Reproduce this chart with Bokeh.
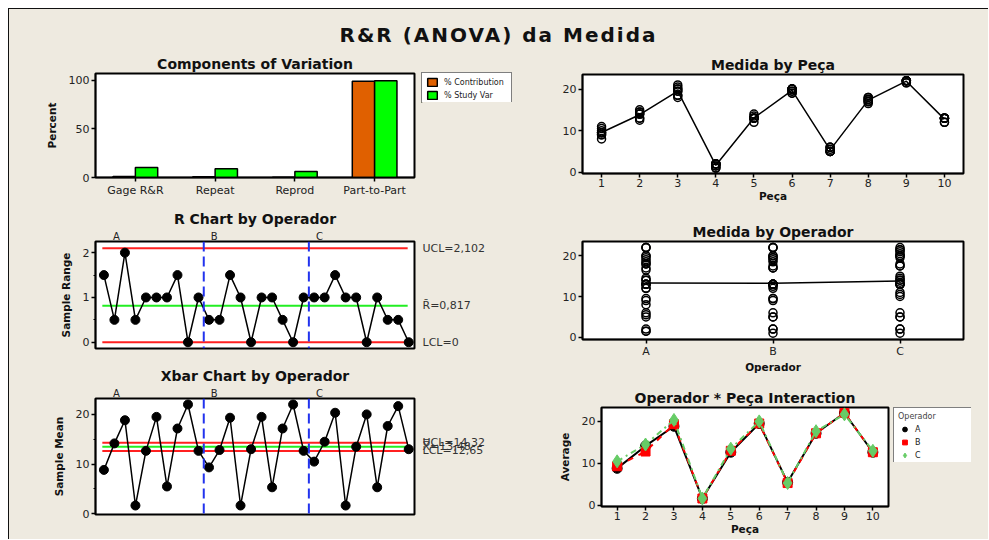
import numpy as np
from bokeh.plotting import figure
from bokeh.layouts import column, row
from bokeh.models import (ColumnDataSource, Legend, LegendItem, Span, Div, LinearAxis,
                          FactorRange, Range1d, FixedTicker)
from bokeh.transform import dodge
from bokeh.embed import file_html
from bokeh.resources import INLINE

# ---------------- data ----------------
components = ["Gage R&R", "Repeat", "Reprod", "Part-to-Part"]
pct_contribution = [1.06, 0.79, 0.38, 98.94]
pct_study_var = [10.3, 8.9, 6.2, 99.47]

operators = ["A", "B", "C"]
parts = [1, 2, 3, 4, 5, 6, 7, 8, 9, 10]

medida_A = [[8.0, 9.0, 9.5], [14.0, 14.0, 14.5], [18.0, 18.5, 20.0], [1.5, 1.5, 2.0],
            [12.0, 13.0, 13.0], [19.0, 19.5, 20.0], [5.0, 5.5, 6.0], [16.5, 17.0, 18.0],
            [22.0, 22.0, 22.0], [12.0, 13.0, 13.0]]
medida_B = [[9.0, 9.5, 9.5], [12.5, 13.0, 13.0], [18.5, 19.5, 20.0], [1.0, 2.0, 2.0],
            [13.0, 13.0, 13.0], [19.0, 19.5, 20.0], [5.0, 5.0, 6.0], [17.0, 17.0, 17.5],
            [22.0, 22.0, 22.0], [12.0, 13.0, 13.0]]
medida_C = [[10.0, 10.5, 11.0], [14.0, 14.5, 15.0], [19.5, 20.5, 21.0], [1.0, 2.0, 2.0],
            [13.0, 13.5, 14.0], [20.0, 20.0, 20.0], [5.0, 5.0, 6.0], [17.5, 17.5, 18.0],
            [21.5, 21.5, 22.0], [13.0, 13.0, 13.0]]

r_limits = [2.102, 0.817, 0]
r_labels = ["UCL=2,102", "R\u0304=0,817", "LCL=0"]
x_limits = [14.32, 13.48, 12.65]
x_labels = ["UCL=14,32", "X\u033f=13,48", "LCL=12,65"]

# ---------------- styling ----------------
BG = "#EEEAE0"
FONT = "DejaVu Sans"
ORANGE = "#E06000"
GREEN = "#00FF00"
LGREEN = "#66CC66"

data = {"A": np.array(medida_A), "B": np.array(medida_B), "C": np.array(medida_C)}


def no_align(p):
    try:
        p.frame_align = False
    except Exception:
        pass


def style_axis(ax):
    ax.axis_line_color = "black"
    ax.axis_line_width = 1.5
    ax.major_tick_line_color = "black"
    ax.major_tick_line_width = 1.5
    ax.major_tick_in = 0
    ax.major_tick_out = 4
    ax.minor_tick_line_color = None
    ax.major_label_text_font = FONT
    ax.major_label_text_font_size = "11px"
    ax.major_label_text_color = "#222222"
    ax.major_label_standoff = 2
    ax.axis_label_text_font = FONT
    ax.axis_label_text_font_size = "10.5px"
    ax.axis_label_text_font_style = "bold"
    ax.axis_label_text_color = "#111111"
    ax.axis_label_standoff = 8


def make_fig(fw, fh, left, right, top, bottom, x_range, y_range, title):
    p = figure(frame_width=fw, frame_height=fh, x_range=x_range, y_range=y_range,
               toolbar_location=None, output_backend="svg",
               min_border_left=left, min_border_right=right,
               min_border_top=top, min_border_bottom=bottom,
               background_fill_color="white", border_fill_color=BG)
    no_align(p)
    p.outline_line_color = "black"
    p.outline_line_width = 2
    p.grid.visible = False
    p.title.text = title
    p.title.align = "center"
    p.title.text_font = FONT
    p.title.text_font_size = "14px"
    p.title.text_font_style = "bold"
    p.title.text_color = "#111111"
    p.title.standoff = 4
    for ax in p.axis:
        style_axis(ax)
    return p


def legend_fig(fw, fh, top, bottom, right):
    q = figure(frame_width=fw, frame_height=fh, x_range=Range1d(0, 1), y_range=Range1d(0, 1),
               toolbar_location=None, output_backend="svg",
               min_border_left=0, min_border_right=right, min_border_top=top,
               min_border_bottom=bottom, background_fill_color=BG, border_fill_color=BG)
    no_align(q)
    q.outline_line_color = None
    q.axis.visible = False
    q.grid.visible = False
    return q


# placeholder location (outside the legend figure's view) so legend glyphs get drawn
HIDDEN = [-10.0]

# ---------------- title ----------------
title_div = Div(text="R&amp;R (ANOVA) da Medida", width=979, height=36, margin=0,
                styles={"font-family": FONT, "font-size": "20px", "font-weight": "bold",
                        "letter-spacing": "2px", "text-align": "center", "color": "#111111",
                        "background-color": BG, "padding-top": "12px",
                        "box-sizing": "border-box"})

# ---------------- P1: Components of variation ----------------
src1 = ColumnDataSource(dict(comp=components, contrib=pct_contribution, sv=pct_study_var))
p1 = make_fig(319, 104, 86, 7, 28, 30, FactorRange(*components, range_padding=0),
              Range1d(0, 107), "Components of Variation")
p1.vbar(x=dodge("comp", -0.14, range=p1.x_range), top="contrib", width=0.28, source=src1,
        fill_color=ORANGE, line_color="black", line_width=1.5)
p1.vbar(x=dodge("comp", 0.14, range=p1.x_range), top="sv", width=0.28, source=src1,
        fill_color=GREEN, line_color="black", line_width=1.5)
p1.yaxis.ticker = FixedTicker(ticks=[0, 50, 100])
p1.yaxis.axis_label = "Percent"

lg1 = legend_fig(92, 30, 27, 105, 16)
lr1 = lg1.vbar(x=HIDDEN, top=HIDDEN, width=0.5, fill_color=ORANGE, line_color="black", line_width=1.5)
lr2 = lg1.vbar(x=HIDDEN, top=HIDDEN, width=0.5, fill_color=GREEN, line_color="black", line_width=1.5)
leg1 = Legend(items=[LegendItem(label="% Contribution", renderers=[lr1]),
                     LegendItem(label="% Study Var", renderers=[lr2])],
              location="top_left", margin=0, padding=4, spacing=3,
              glyph_width=12, glyph_height=10, label_height=10, label_width=63,
              label_text_font=FONT, label_text_font_size="8px", label_standoff=6,
              label_text_color="#222222",
              border_line_color="black", border_line_width=1.5,
              background_fill_color="white", background_fill_alpha=1.0)
lg1.add_layout(leg1)

# ---------------- P2: Medida by Peca ----------------
xs2, ys2 = [], []
for op in operators:
    for i, pc in enumerate(parts):
        for v in data[op][i]:
            xs2.append(pc)
            ys2.append(float(v))
part_means = [float(np.mean([data[op][i] for op in operators])) for i in range(len(parts))]
p2 = make_fig(381, 99, 44, 25, 29, 34, Range1d(0.5, 10.5), Range1d(-0.3, 23.5), "Medida by Pe\u00e7a")
p2.line(parts, part_means, line_color="black", line_width=1.5)
p2.scatter(xs2, ys2, marker="circle", size=8, fill_color=None, line_color="black", line_width=1.5)
p2.xaxis.ticker = FixedTicker(ticks=parts)
p2.yaxis.ticker = FixedTicker(ticks=[0, 10, 20])
p2.xaxis.axis_label = "Pe\u00e7a"
p2.xaxis.axis_label_standoff = 0
p2.xaxis.major_label_standoff = 1

# ---------------- control charts ----------------
ranges_all, means_all = [], []
for op in operators:
    arr = data[op]
    ranges_all += [float(v) for v in arr.max(axis=1) - arr.min(axis=1)]
    means_all += [float(v) for v in arr.mean(axis=1)]
idx = list(range(1, len(ranges_all) + 1))
n = len(idx)
seps = [len(parts) * k + 0.5 for k in range(1, len(operators))]
grp_lbl_x = [2.2, 11.5, 21.5]


def control_chart(p, vals, lims, labels):
    p.below[0].visible = False
    p.left[0].minor_tick_line_color = "black"
    p.left[0].minor_tick_line_width = 1
    p.left[0].minor_tick_in = 0
    p.left[0].minor_tick_out = 2
    p.title.standoff = 1
    cols = ["#FF2020", "#22EE22", "#FF2020"]
    for lv, c in zip(lims, cols):
        p.segment(x0=[0.85], y0=[lv], x1=[n - 0.1], y1=[lv], line_color=c, line_width=2)
    for s in seps:
        p.add_layout(Span(location=s, dimension="height", line_color="#2233EE",
                          line_dash="10 5", line_width=2))
    p.line(idx, vals, line_color="black", line_width=1.5)
    p.scatter(idx, vals, marker="circle", size=9, fill_color="black", line_color="black")
    # operator names above the frame
    top_ax = LinearAxis(ticker=FixedTicker(ticks=grp_lbl_x),
                        major_label_overrides={x: op for x, op in zip(grp_lbl_x, operators)})
    style_axis(top_ax)
    top_ax.axis_line_color = None
    top_ax.major_tick_line_color = None
    top_ax.major_tick_out = 0
    top_ax.major_label_standoff = 0
    top_ax.major_label_text_font_size = "10px"
    p.add_layout(top_ax, "above")
    # control limit labels right of the frame
    right_ax = LinearAxis(ticker=FixedTicker(ticks=lims),
                          major_label_overrides={v: t for v, t in zip(lims, labels)})
    style_axis(right_ax)
    right_ax.axis_line_color = None
    right_ax.major_tick_line_color = None
    right_ax.major_tick_out = 0
    right_ax.major_label_standoff = 8
    right_ax.major_label_text_color = "#333333"
    p.add_layout(right_ax, "right")


p3 = make_fig(319, 107, 86, 124, 34, 17, Range1d(0.2, 30.55), Range1d(-0.14, 2.25),
              "R Chart by Operador")
p3.left[0].ticker = FixedTicker(ticks=[0, 1, 2], minor_ticks=[0.5, 1.5])
p3.left[0].axis_label = "Sample Range"
control_chart(p3, ranges_all, r_limits, r_labels)

# ---------------- P4: Medida by Operador ----------------
op_pos = [k + 1 for k in range(len(operators))]
xs4, ys4 = [], []
for pos, op in zip(op_pos, operators):
    for v in data[op].ravel():
        xs4.append(pos)
        ys4.append(float(v))
op_means = [float(data[op].mean()) for op in operators]
p4 = make_fig(381, 98, 44, 25, 34, 31, Range1d(0.5, 3.5), Range1d(-0.55, 23.5), "Medida by Operador")
p4.line(op_pos, op_means, line_color="black", line_width=1.5)
p4.scatter(xs4, ys4, marker="circle", size=8, fill_color=None, line_color="black", line_width=1.5)
p4.xaxis.ticker = FixedTicker(ticks=op_pos)
p4.xaxis.major_label_overrides = {pos: op for pos, op in zip(op_pos, operators)}
p4.yaxis.ticker = FixedTicker(ticks=[0, 10, 20])
p4.xaxis.axis_label = "Operador"
p4.xaxis.axis_label_standoff = 0
p4.xaxis.major_label_standoff = 1

# ---------------- P5: Xbar chart ----------------
p5 = make_fig(319, 116, 86, 124, 33, 25, Range1d(0.2, 30.55), Range1d(-0.14, 23.2),
              "Xbar Chart by Operador")
p5.left[0].ticker = FixedTicker(ticks=[0, 10, 20], minor_ticks=[5, 15])
p5.left[0].axis_label = "Sample Mean"
control_chart(p5, means_all, x_limits, x_labels)

# ---------------- P6: Interaction ----------------
p6 = make_fig(287, 99, 63, 5, 32, 33, Range1d(0.45, 10.55), Range1d(-0.24, 23.3),
              "Operador * Pe\u00e7a Interaction")
styles6 = {"A": ("black", "circle", 10, "solid"),
           "B": ("#FF0000", "square", 9, "dashed"),
           "C": (LGREEN, "diamond", 13, "dashdot")}
lg6 = legend_fig(78, 55, 32, 77, 17)
items6 = []
for op in operators:
    c, m, s, d = styles6[op]
    mvals = [float(v) for v in data[op].mean(axis=1)]
    p6.line(parts, mvals, line_color=c, line_width=2, line_dash=d)
    p6.scatter(parts, mvals, marker=m, size=s, fill_color=c, line_color=c)
    lr = lg6.scatter(x=HIDDEN, y=HIDDEN, marker=m, size=s, fill_color=c, line_color=c)
    items6.append(LegendItem(label=op, renderers=[lr]))
p6.xaxis.ticker = FixedTicker(ticks=parts)
p6.yaxis.ticker = FixedTicker(ticks=[0, 10, 20])
p6.xaxis.axis_label = "Pe\u00e7a"
p6.xaxis.axis_label_standoff = 0
p6.xaxis.major_label_standoff = 1
p6.yaxis.axis_label = "Average"
leg6 = Legend(items=items6, location="top_left", margin=0, padding=4, spacing=1,
              title="Operador", title_text_font=FONT, title_text_font_size="8px",
              title_text_font_style="normal", title_standoff=2,
              glyph_width=13, glyph_height=12, label_height=11, label_width=53,
              label_text_font=FONT, label_text_font_size="8px", label_standoff=4,
              label_text_color="#222222",
              border_line_color="black", border_line_width=1.5,
              background_fill_color="white", background_fill_alpha=1.0)
lg6.add_layout(leg6)

left_col = column(row(p1, lg1), p3, p5)
right_col = column(p2, p4, row(p6, lg6))
layout = column(title_div, row(left_col, right_col), margin=(8, 0, 0, 8),
                styles={"border-top": "1px solid #111111", "border-left": "1px solid #111111",
                        "background-color": BG})

open("out.html", "w").write(file_html(layout, INLINE))
